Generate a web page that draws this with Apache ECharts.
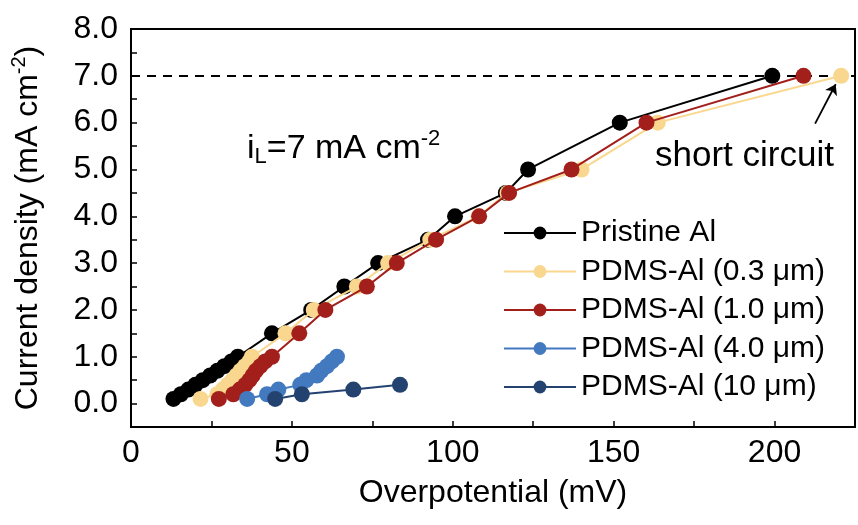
<!DOCTYPE html>
<html>
<head>
<meta charset="utf-8">
<script src="https://cdn.jsdelivr.net/npm/echarts@6/dist/echarts.min.js"></script>
<style>html,body{margin:0;padding:0;background:#fff}#c{width:858px;height:525px}</style>
</head>
<body>
<div id="c"></div>
<script>
// ---- data (Overpotential mV, Current density mA cm^-2) ----
const seriesNames = ['Pristine Al', 'PDMS-Al (0.3 μm)', 'PDMS-Al (1.0 μm)', 'PDMS-Al (4.0 μm)', 'PDMS-Al (10 μm)'];

const pristineX = [13.2, 15.5, 17.8, 20.0, 22.3, 24.6, 26.8, 29.0, 31.2, 33.2, 43.8, 56.0, 66.3, 76.8, 92.3, 100.7, 116.5, 123.4, 151.9, 199.3];
const pristineY = [0.1, 0.2, 0.3, 0.4, 0.5, 0.6, 0.7, 0.8, 0.9, 1.0, 1.5, 2.0, 2.5, 3.0, 3.5, 4.0, 4.5, 5.0, 6.0, 7.0];

const pdms03X = [21.6, 26.8, 28.5, 30.0, 31.5, 32.8, 34.0, 35.4, 36.8, 37.6, 48.0, 56.8, 70.2, 79.9, 93.0, 108.0, 117.0, 140.0, 163.7, 220.7];
const pdms03Y = [0.1, 0.2, 0.3, 0.4, 0.5, 0.6, 0.7, 0.8, 0.9, 1.0, 1.5, 2.0, 2.5, 3.0, 3.5, 4.0, 4.5, 5.0, 6.0, 7.0];

const pdms10X = [27.3, 31.8, 33.8, 35.5, 36.8, 37.8, 38.8, 40.2, 41.7, 43.8, 52.3, 60.4, 73.3, 82.6, 94.8, 108.2, 117.5, 136.9, 160.2, 209.0];
const pdms10Y = [0.1, 0.2, 0.3, 0.4, 0.5, 0.6, 0.7, 0.8, 0.9, 1.0, 1.5, 2.0, 2.5, 3.0, 3.5, 4.0, 4.5, 5.0, 6.0, 7.0];

const pdms40X = [36.1, 42.3, 45.8, 52.6, 54.5, 57.8, 59.1, 60.9, 62.4, 64.0];
const pdms40Y = [0.1, 0.2, 0.3, 0.4, 0.5, 0.6, 0.7, 0.8, 0.9, 1.0];

const pdms100X = [44.8, 53.1, 69.1, 83.6];
const pdms100Y = [0.1, 0.2, 0.3, 0.4];

const limitCurrent = 7.0;           // i_L dashed line
const arrowFrom = [212.6, 5.98];    // "short circuit" arrow
const arrowTo = [219.0, 6.82];

const xTicks = [0, 50, 100, 150, 200];
const yTicks = [0, 1, 2, 3, 4, 5, 6, 7, 8];

// ---- styling ----
const colors = ['#000000', '#F9D78E', '#A21F1B', '#4279BF', '#24426F'];
const FONT = 'Liberation Sans, Arial, sans-serif';

function zip(xs, ys) { return xs.map((x, i) => [x, ys[i]]); }
const dataSets = [zip(pristineX, pristineY), zip(pdms03X, pdms03Y), zip(pdms10X, pdms10Y), zip(pdms40X, pdms40Y), zip(pdms100X, pdms100Y)];

const series = dataSets.map((d, i) => ({
  name: seriesNames[i],
  type: 'line',
  data: d,
  symbol: 'circle',
  symbolSize: 16,
  color: colors[i],
  lineStyle: { width: 2, color: colors[i] },
  itemStyle: { color: colors[i] },
  z: 3 + i,
  animation: false
}));

series[0].markLine = {
  silent: true, symbol: 'none', animation: false,
  label: { show: false },
  lineStyle: { color: '#000', type: [9, 7], width: 1.8 },
  data: [{ yAxis: limitCurrent }],
  z: 1
};
series[1].markLine = {
  silent: true, symbol: ['none', 'arrow'], symbolSize: 10, animation: false,
  label: { show: false },
  lineStyle: { color: '#000', type: 'solid', width: 1.8 },
  data: [[{ coord: arrowFrom }, { coord: arrowTo }]]
};

const chart = echarts.init(document.getElementById('c'), null, { renderer: 'canvas' });
chart.setOption({
  animation: false,
  backgroundColor: '#fff',
  textStyle: { fontFamily: FONT },
  grid: { left: 131, right: 3, top: 29, bottom: 98, show: true, borderColor: '#000', borderWidth: 2, containLabel: false },
  xAxis: {
    type: 'value', min: 0, max: 225, interval: 25,
    name: 'Overpotential (mV)', nameLocation: 'middle', nameGap: 50,
    nameTextStyle: { fontFamily: FONT, fontSize: 32, color: '#000' },
    axisLine: { onZero: false, lineStyle: { color: '#000', width: 2 } },
    axisTick: { inside: true, length: 6, lineStyle: { color: '#000', width: 1.5 } },
    axisLabel: { fontFamily: FONT, fontSize: 32, color: '#000', margin: 10, showMaxLabel: false,
      formatter: v => xTicks.includes(v) ? String(v) : '' },
    splitLine: { show: false }
  },
  yAxis: [{
    type: 'value', min: -0.5, max: 8, interval: 0.5,
    name: 'Current density (mA cm{sup|-2})', nameLocation: 'middle', nameGap: 84,
    nameTextStyle: { fontFamily: FONT, fontSize: 32, color: '#000',
      rich: { sup: { fontFamily: FONT, fontSize: 20, color: '#000', padding: [0, 0, 18, 0] } } },
    axisLine: { onZero: false, lineStyle: { color: '#000', width: 2 } },
    axisTick: { inside: true, length: 6, lineStyle: { color: '#000', width: 1.5 } },
    axisLabel: { fontFamily: FONT, fontSize: 32, color: '#000', margin: 13,
      formatter: v => yTicks.includes(v) ? v.toFixed(1) : '' },
    splitLine: { show: false }
  }],
  legend: {
    orient: 'vertical', left: 498, top: 213, padding: 5,
    itemWidth: 72, itemHeight: 16, itemGap: 8.5,
    data: seriesNames,
    textStyle: { fontFamily: FONT, fontSize: 30, color: '#000', lineHeight: 30, padding: [0, 0, 0, 0] },
    selectedMode: false
  },
  graphic: [
    { type: 'text', left: 247, top: 128, silent: true,
      style: { text: '{n|i}{sub|L}{n|=7 mA cm}{sup|-2}', font: '34px ' + FONT, fill: '#000',
        rich: {
          n: { fontFamily: FONT, fontSize: 34, fill: '#000' },
          sub: { fontFamily: FONT, fontSize: 22, fill: '#000', padding: [16, 0, 0, 0] },
          sup: { fontFamily: FONT, fontSize: 22, fill: '#000', padding: [0, 0, 20, 0] }
        } } },
    { type: 'text', left: 655, top: 139, silent: true,
      style: { text: 'short circuit', font: '35px ' + FONT, fill: '#000' } }
  ],
  series: series
});
</script>
</body>
</html>
